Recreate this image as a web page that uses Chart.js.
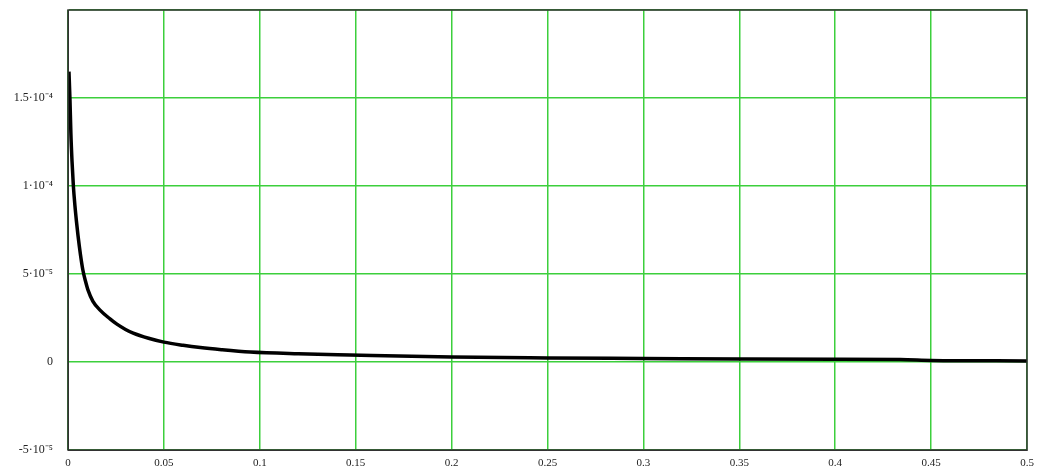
<!DOCTYPE html>
<html>
<head>
<meta charset="utf-8">
<script src="https://cdn.jsdelivr.net/npm/chart.js@4"></script>
<style>
  html, body { margin: 0; padding: 0; background: #fff; }
  #wrap { width: 1038px; height: 469px; }
</style>
</head>
<body>
<div id="wrap"><canvas id="chart"></canvas></div>
<script>
// valeurs
const xValues = [0.0005, 0.001, 0.0015, 0.0021, 0.0028, 0.0036, 0.0044, 0.0052, 0.0065, 0.0078,
  0.0091, 0.0104, 0.013, 0.0167, 0.0219, 0.0255, 0.03, 0.034, 0.042, 0.05, 0.06, 0.069, 0.08, 0.095,
  0.12, 0.147, 0.2, 0.25, 0.3, 0.35, 0.4, 0.434, 0.45, 0.5];
const yValues = [1.65e-4, 1.5e-4, 1.3e-4, 1.14e-4, 1.0e-4, 8.9e-5, 8.0e-5, 7.2e-5, 6.1e-5, 5.2e-5,
  4.6e-5, 4.1e-5, 3.45e-5, 2.95e-5, 2.45e-5, 2.15e-5, 1.85e-5, 1.64e-5, 1.35e-5, 1.13e-5, 9.5e-6, 8.2e-6, 7.0e-6, 5.7e-6,
  4.7e-6, 4.0e-6, 2.8e-6, 2.3e-6, 2.0e-6, 1.7e-6, 1.5e-6, 1.4e-6, 9e-7, 6e-7];
const xTickLabels = ['0', '0.05', '0.1', '0.15', '0.2', '0.25', '0.3', '0.35', '0.4', '0.45', '0.5'];
const yTickLabels = ['-5·10⁻⁵', '0', '5·10⁻⁵', '1·10⁻⁴', '1.5·10⁻⁴', ''];

// cadre sombre autour de la zone de tracé
const framePlugin = {
  id: 'frame',
  afterDraw(chart) {
    const a = chart.chartArea, c = chart.ctx;
    c.save();
    c.strokeStyle = '#333';
    c.lineWidth = 1.5;
    c.strokeRect(Math.round(a.left), Math.round(a.top),
      Math.round(a.right - a.left), Math.round(a.bottom - a.top));
    c.restore();
  }
};

const tickFont = { family: 'Liberation Serif', size: 11 };

new Chart(document.getElementById('chart'), {
  type: 'line',
  data: {
    datasets: [{
      data: xValues.map((x, i) => ({ x: x, y: yValues[i] })),
      borderColor: '#000',
      borderWidth: 3.5,
      pointRadius: 0,
      cubicInterpolationMode: 'monotone',
      fill: false
    }]
  },
  options: {
    responsive: true,
    maintainAspectRatio: false,
    animation: false,
    layout: { padding: { top: 10, right: 11, left: 0, bottom: 0 } },
    plugins: { legend: { display: false }, tooltip: { enabled: false } },
    scales: {
      x: {
        type: 'linear',
        min: 0, max: 0.5,
        ticks: {
          stepSize: 0.05,
          color: '#222',
          font: tickFont,
          padding: 7,
          maxRotation: 0,
          callback: (v, i) => xTickLabels[i]
        },
        grid: { color: '#3ccf3c', lineWidth: 1.5, drawTicks: false },
        border: { display: true, color: '#333' },
        afterFit: s => { s.height = 19; s.paddingLeft = 0; s.paddingRight = 0; }
      },
      y: {
        min: -5e-5, max: 2e-4,
        ticks: {
          stepSize: 5e-5,
          color: '#222',
          font: { family: 'Liberation Serif', size: 12 },
          padding: 15,
          callback: (v, i) => yTickLabels[i]
        },
        grid: { color: '#3ccf3c', lineWidth: 1.5, drawTicks: false },
        border: { display: true, color: '#333' },
        afterFit: s => { s.width = 68; s.paddingTop = 0; s.paddingBottom = 0; }
      }
    }
  },
  plugins: [framePlugin]
});
</script>
</body>
</html>
